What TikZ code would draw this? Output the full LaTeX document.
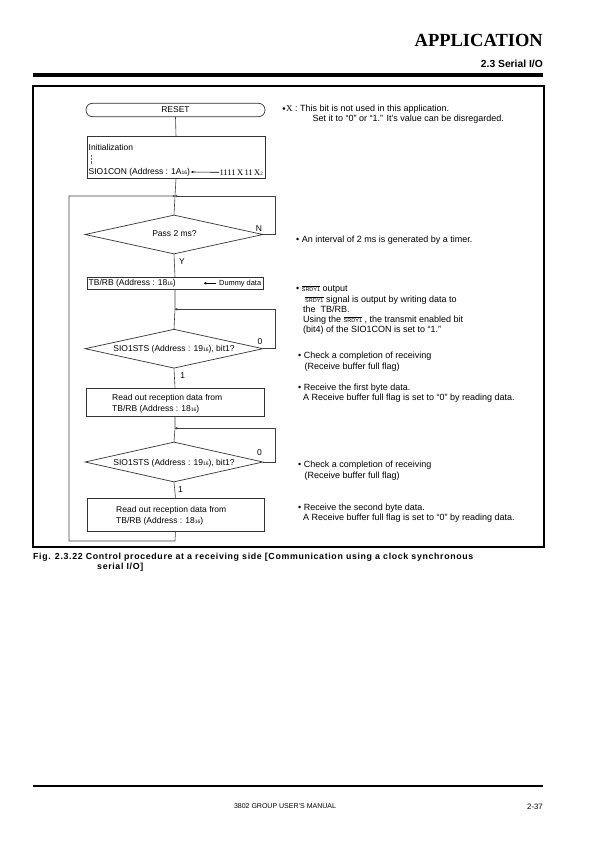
\documentclass[tikz,border=0pt]{standalone}
\usepackage{fontspec}
\setmainfont{Liberation Sans}
\newfontfamily\serifX{Liberation Serif}
\usetikzlibrary{shapes.geometric,arrows.meta}
\newcommand{\sub}[1]{{\fontsize{5}{5}\selectfont #1}}
\newcommand{\srdy}{$\overline{\hbox{\fontsize{5.5}{6}\selectfont SRDY1}}$}
\begin{document}
\begin{tikzpicture}[x=1pt,y=-1pt,
  flow/.style={draw=black!75,line width=0.6pt},
  txt/.style={font=\fontsize{8.5}{10.5}\selectfont,inner sep=0pt},
  note/.style={font=\fontsize{9}{10.5}\selectfont,inner sep=0pt,anchor=base west},
  boxst/.style={draw=black!80,line width=0.7pt,inner sep=0pt},
  dia/.style={diamond,draw=black!80,line width=0.7pt,inner sep=0pt,minimum width=178,minimum height=39},
  tip/.style={-{To[length=2.5pt,width=2.5pt]}}
]
\useasboundingbox (0,0) rectangle (595,842);
% header
\node[anchor=east,inner sep=0pt,font=\serifX\bfseries\fontsize{18.5}{19}\selectfont] (hdr) at (543,40.5) {APPLICATION};
\node[anchor=east,inner sep=0pt,font=\bfseries\fontsize{10.3}{11}\selectfont] (sec) at (543,63.5) {2.3 Serial I/O};
\draw[line width=3.3pt] (33,75) -- (543,75);
% frame
\draw[line width=1.4pt] (33,86) rectangle (544,547);

% RESET
\node[boxst,rounded corners=6.5pt,minimum width=179,minimum height=13.4,txt] (reset) at (175.5,110) {RESET};
% init
\node[boxst,minimum width=178,minimum height=41.6] (init) at (176,157.5) {};
\node[txt,anchor=west] (initt) at (88.5,147) {Initialization};
\draw[densely dotted,black!60] (91,155) -- (91,164);
\node[txt,anchor=west] (sioc) at (88.5,172) {SIO1CON (Address : 1A\sub{16})};
\node[txt,anchor=east] (val) at (263,172.3) {\serifX 1111\,X\,11\,X\sub{2}};
\draw[tip,line width=0.6pt] (val.west) -- ([xshift=1pt]sioc.east);

\coordinate (m1) at (175,196);
\node[dia] (d1) at (174,234.5) {};
\node[txt] at (174.5,234) {Pass 2 ms?};
\node[txt] (nlab) at (259,229) {N};
\node[txt] (ylab) at (182,262) {Y};

\node[boxst,minimum width=176,minimum height=11.7] (tb) at (175,283.2) {};
\node[txt,anchor=west] (tbt) at (88.5,283.5) {TB/RB (Address : 18\sub{16})};
\node[txt,anchor=west,font=\fontsize{7.4}{9}\selectfont] (dum) at (219,283.3) {Dummy data};
\draw[tip,line width=0.6pt] (215.5,283.3) -- (204,283.3);

\coordinate (m2) at (175,309.3);
\node[dia] (d2) at (174,348.7) {};
\node[txt] at (174,349.5) {SIO1STS (Address : 19\sub{16}), bit1?};
\node[txt] (z1) at (260,341.7) {0};
\node[txt] (o1) at (182.7,376) {1};

\node[boxst,minimum width=178,minimum height=28] (r1) at (175,402) {};
\node[txt,anchor=west] (r1a) at (112,398) {Read out reception data from};
\node[txt,anchor=west] (r1b) at (112,409) {TB/RB (Address : 18\sub{16})};

\coordinate (m3) at (175,428.3);
\node[dia,minimum height=40] (d3) at (174,462) {};
\node[txt] at (174,463) {SIO1STS (Address : 19\sub{16}), bit1?};
\node[txt] (z2) at (259.5,452.7) {0};
\node[txt] (o2) at (180.5,490) {1};

\node[boxst,minimum width=177,minimum height=33] (r2) at (175.5,514.5) {};
\node[txt,anchor=west] (r2a) at (116,510.5) {Read out reception data from};
\node[txt,anchor=west] (r2b) at (116,521) {TB/RB (Address : 18\sub{16})};

\coordinate (bot) at (175,541);
\coordinate (lft) at (69,541);

% connectors
\draw[flow] (reset.south) -- (init.north);
\draw[flow] (init.south) -- (m1) -- (d1.north);
\draw[flow,tip] (d1.east) -- (275,234.5) |- (m1);
\draw[flow] (d1.south) -- (tb.north);
\draw[flow] (tb.south) -- (m2) -- (d2.north);
\draw[flow,tip] (d2.east) -- (275,348.7) |- (m2);
\draw[flow] (d2.south) -- (r1.north);
\draw[flow] (r1.south) -- (m3) -- (d3.north);
\draw[flow,tip] (d3.east) -- (275,462) |- (m3);
\draw[flow] (d3.south) -- (r2.north);
\draw[flow,tip] (r2.south) -- (bot) -- (lft) |- (m1);

% notes (baseline = centre + 3.2)
\node[note] (n0) at (282,111.2) {{\fontsize{6.5}{6}\selectfont\raisebox{0.6pt}{$\bullet$}}{\serifX X} : This bit is not used in this application.};
\node[note] (n0b) at (312.5,121.5) {Set it to “0” or “1.” It’s value can be disregarded.};
\node[note] (n1) at (296,242.2) {• An interval of 2 ms is generated by a timer.};
\node[note] (n2) at (296,291.2) {• \srdy{} output};
\node[note] (n2b) at (305,302.2) {\srdy{} signal is output by writing data to};
\node[note] (n2c) at (303,312.2) {the\ \ TB/RB.};
\node[note] (n2d) at (303,322.2) {Using the \srdy{} , the transmit enabled bit};
\node[note] (n2e) at (303,332.2) {(bit4) of the SIO1CON is set to “1.”};
\node[note] (n3) at (298,358.2) {• Check a completion of receiving};
\node[note] (n3b) at (304.5,369.2) {(Receive buffer full flag)};
\node[note] (n4) at (298,390.2) {• Receive the first byte data.};
\node[note] (n4b) at (303,400.2) {A Receive buffer full flag is set to “0” by reading data.};
\node[note] (n5) at (298,467.2) {• Check a completion of receiving};
\node[note] (n5b) at (304.5,478.2) {(Receive buffer full flag)};
\node[note] (n6) at (298,510.2) {• Receive the second byte data.};
\node[note] (n6b) at (303,520.2) {A Receive buffer full flag is set to “0” by reading data.};

% caption
\node[anchor=base west,inner sep=0pt,font=\addfontfeatures{LetterSpace=7.5}\bfseries\fontsize{8.8}{11}\selectfont] (cap) at (33,559) {Fig. 2.3.22 Control procedure at a receiving side [Communication using a clock synchronous};
\node[anchor=base west,inner sep=0pt,font=\addfontfeatures{LetterSpace=7.5}\bfseries\fontsize{8.8}{11}\selectfont] (cap2) at (97,569.5) {serial I/O]};

% footer
\draw[line width=1.8pt] (33,786) -- (543,786);
\node[inner sep=0pt,font=\fontsize{7}{8}\selectfont] (man) at (285,806.5) {3802 GROUP USER’S MANUAL};
\node[anchor=east,inner sep=0pt,font=\fontsize{7.8}{8}\selectfont] (pg) at (543,806.5) {2-37};
\end{tikzpicture}
\end{document}
